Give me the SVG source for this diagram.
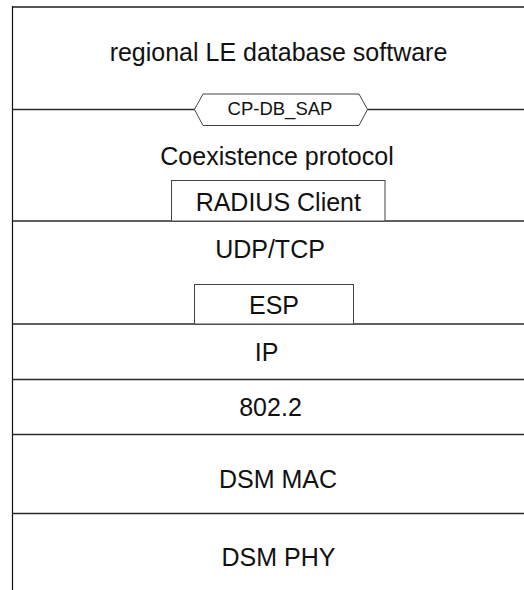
<svg xmlns="http://www.w3.org/2000/svg" width="524" height="590" viewBox="0 0 524 590">
<style>
.sep{stroke:#2a2a2a;stroke-width:1.5;fill:none}
.box{stroke:#444;stroke-width:1;fill:#fff}
.t{font-family:"Liberation Sans",Arial,sans-serif;font-size:25px;fill:#111;text-anchor:middle}
.s{font-family:"Liberation Sans",Arial,sans-serif;font-size:18.5px;fill:#111;text-anchor:middle}
</style>
<rect width="524" height="590" fill="#fff"/>
<g id="separators">
<line class="sep" x1="12.5" y1="7" x2="524" y2="7" style="stroke:#555;stroke-width:2"/>
<line class="sep" x1="12.5" y1="6" x2="12.5" y2="590" style="stroke:#111;stroke-width:1.2"/>
<line class="sep" x1="12.5" y1="109.5" x2="524" y2="109.5"/>
<line class="sep" x1="12.5" y1="221" x2="524" y2="221"/>
<line class="sep" x1="12.5" y1="324" x2="524" y2="324"/>
<line class="sep" x1="12.5" y1="379.5" x2="524" y2="379.5"/>
<line class="sep" x1="12.5" y1="434.5" x2="524" y2="434.5"/>
<line class="sep" x1="12.5" y1="513.5" x2="524" y2="513.5"/>
</g>
<g id="db-software"><text class="t" x="278.5" y="61">regional LE database software</text></g>
<g id="cp-db-sap">
<polygon class="box" points="194.5,109.5 203,94 359,94 367.5,109.5 359,125.5 203,125.5"/>
<text class="s" x="280" y="114.5">CP-DB_SAP</text>
</g>
<g id="coexistence"><text class="t" x="277" y="164.5">Coexistence protocol</text></g>
<g id="radius-client">
<rect class="box" x="171.5" y="180.5" width="213.5" height="40.5"/>
<text class="t" x="278.3" y="210.5">RADIUS Client</text>
</g>
<g id="udp-tcp"><text class="t" x="270" y="258.3">UDP/TCP</text></g>
<g id="esp">
<rect class="box" x="194.5" y="284.5" width="159" height="39.5"/>
<text class="t" x="274" y="314.3">ESP</text>
</g>
<g id="ip"><text class="t" x="266.5" y="361">IP</text></g>
<g id="llc"><text class="t" x="270.5" y="416">802.2</text></g>
<g id="dsm-mac"><text class="t" x="278" y="487.7">DSM MAC</text></g>
<g id="dsm-phy"><text class="t" x="278.5" y="565.7">DSM PHY</text></g>
</svg>
